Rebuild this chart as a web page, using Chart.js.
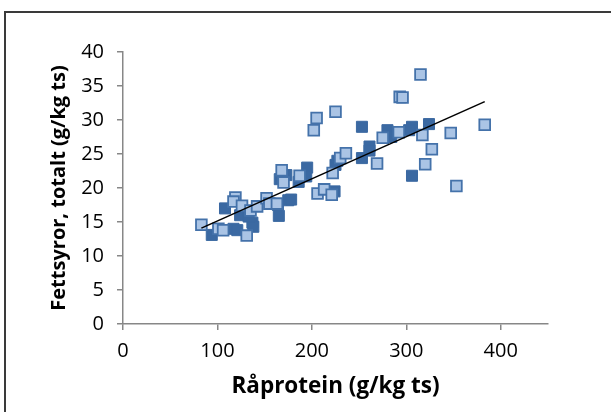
<!DOCTYPE html>
<html>
<head>
<meta charset="utf-8">
<script src="https://cdn.jsdelivr.net/npm/chart.js@4"></script>
<style>
  html, body { margin: 0; padding: 0; background: #fff; }
  #wrap { position: relative; width: 611px; height: 412px; overflow: hidden; }
  #frame { position: absolute; left: 4px; top: 11px; width: 640px; height: 440px; border: 2px solid #3a3a3a; box-sizing: border-box; }
  canvas { position: absolute; left: 0; top: 0; }
</style>
</head>
<body>
<div id="wrap">
  <div id="frame"></div>
  <canvas id="c" width="611" height="412"></canvas>
</div>
<script>
// Light squares series: [x, y]
const lightX = [83, 101, 106, 119, 117, 126, 131, 135, 142, 152, 155, 163, 168, 170, 187, 202, 205, 206, 213, 221, 222, 225, 230, 236, 269, 275, 293, 296, 292, 315, 317, 320, 327, 347, 353, 383];
const lightY = [14.6, 14.0, 13.8, 18.6, 18.0, 17.4, 13.0, 16.7, 17.3, 18.5, 17.7, 17.7, 22.6, 20.8, 21.8, 28.5, 30.3, 19.2, 19.8, 19.0, 22.2, 31.2, 24.4, 25.1, 23.6, 27.4, 33.4, 33.3, 28.2, 36.7, 27.8, 23.5, 25.7, 28.1, 20.3, 29.3];
// Dark squares series
const darkX = [94, 108, 117, 121, 124, 137, 138, 133, 165, 164, 166, 173, 175, 178, 186, 195, 194, 224, 225, 227, 253, 253, 261, 261, 280, 284, 306, 306, 303, 324];
const darkY = [13.1, 17.0, 14.0, 13.8, 16.0, 14.9, 14.3, 15.8, 15.9, 17.5, 21.3, 21.9, 18.2, 18.3, 20.9, 23.0, 21.7, 19.5, 23.4, 24.0, 29.0, 24.4, 26.1, 25.5, 28.5, 27.5, 21.8, 29.0, 28.5, 29.4];
// Trend line end points
const trendX = [83, 383];
const trendY = [14.1, 32.7];
// Axis ticks
const xTicks = [0, 100, 200, 300, 400];
const yTicks = [0, 5, 10, 15, 20, 25, 30, 35, 40];

const xTitle = 'Råprotein (g/kg ts)';
const yTitle = 'Fettsyror, totalt (g/kg ts)';

const pts = (xs, ys) => xs.map((x, i) => ({ x: x, y: ys[i] }));

const tickFont = { family: 'Open Sans', size: 20 };
const xTitleFont = { family: 'Open Sans', size: 22.5, weight: 'bold' };
const yTitleFont = { family: 'Open Sans', size: 20, weight: 'bold' };
const axisGray = '#878787';

new Chart(document.getElementById('c'), {
  type: 'scatter',
  data: {
    datasets: [
      {
        type: 'line',
        data: pts(trendX, trendY),
        borderColor: '#000',
        borderWidth: 1.6,
        pointRadius: 0,
        fill: false,
        showLine: true
      },
      {
        data: pts(lightX, lightY),
        pointStyle: 'rect',
        pointRadius: 7.6,
        pointHoverRadius: 7.6,
        backgroundColor: '#aac4e5',
        borderColor: '#4472aa',
        borderWidth: 1.8
      },
      {
        data: pts(darkX, darkY),
        pointStyle: 'rect',
        pointRadius: 7.8,
        pointHoverRadius: 7.8,
        backgroundColor: '#3b69a2',
        borderColor: '#3b69a2',
        borderWidth: 1
      }
    ]
  },
  options: {
    responsive: false,
    animation: false,
    events: [],
    layout: { padding: { left: 0, right: 63, top: 52, bottom: 0 } },
    plugins: { legend: { display: false }, tooltip: { enabled: false } },
    scales: {
      x: {
        type: 'linear',
        min: 0, max: 450,
        afterBuildTicks: (s) => { s.ticks = xTicks.map(v => ({ value: v })); },
        afterFit: (s) => { s.height = 88; },
        ticks: { font: tickFont, color: '#000', padding: 9 },
        grid: { display: true, drawOnChartArea: false, drawTicks: true, tickLength: 6, color: axisGray, lineWidth: 1.5 },
        border: { display: true, color: axisGray, width: 1.5 },
        title: { display: true, text: xTitle, font: xTitleFont, color: '#000', padding: { top: 4, bottom: 12 } }
      },
      y: {
        type: 'linear',
        min: 0, max: 40,
        afterBuildTicks: (s) => { s.ticks = yTicks.map(v => ({ value: v })); },
        afterFit: (s) => { s.width = 123; },
        ticks: { font: tickFont, color: '#000', padding: 13 },
        grid: { display: true, drawOnChartArea: false, drawTicks: true, tickLength: 6, color: axisGray, lineWidth: 1.5 },
        border: { display: true, color: axisGray, width: 1.5 },
        title: { display: true, text: yTitle, font: yTitleFont, color: '#000', padding: { top: 47, bottom: 0 } }
      }
    }
  }
});
</script>
</body>
</html>
